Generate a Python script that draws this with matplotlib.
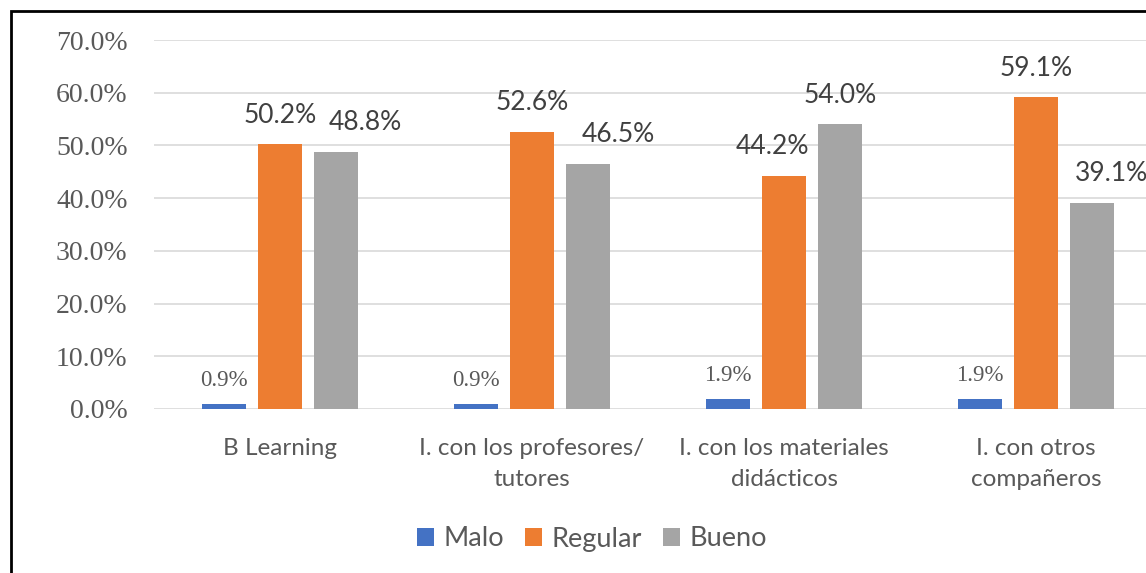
import matplotlib.pyplot as plt
import numpy as np
from matplotlib.patches import Rectangle

categories = ['B Learning', 'I. con los profesores/\ntutores',
              'I. con los materiales\ndidácticos', 'I. con otros\ncompañeros']
series = ['Malo', 'Regular', 'Bueno']
malo = [0.9, 0.9, 1.9, 1.9]
regular = [50.2, 52.6, 44.2, 59.1]
bueno = [48.8, 46.5, 54.0, 39.1]
colors = ['#4472c4', '#ed7d31', '#a5a5a5']

sans = 'Lato'
serif = 'Liberation Serif'
txt = '#595959'
lbl = '#404040'

fig = plt.figure(figsize=(11.46, 5.73), dpi=100)
ax = fig.add_axes([154 / 1146, 164 / 573, 1008 / 1146, 369 / 573])

# border around chart (left/top visible, rest cut off)
fig.patches.append(Rectangle((11 / 1146, -0.1), 1.2, 1.1 - 11 / 573,
                             transform=fig.transFigure, fill=False,
                             edgecolor='black', linewidth=2, clip_on=False))

x = np.arange(len(categories))
w = 0.175
step = 0.222
b1 = ax.bar(x - step, malo, w, color=colors[0], label=series[0], zorder=3)
b2 = ax.bar(x, regular, w, color=colors[1], label=series[1], zorder=3)
b3 = ax.bar(x + step, bueno, w, color=colors[2], label=series[2], zorder=3)

ax.set_xlim(-0.5, 3.5)
ax.set_ylim(0, 70)
ax.set_yticks(np.arange(0, 71, 10))
ax.set_yticklabels([f'{v:.1f}%' for v in np.arange(0, 71, 10)],
                   fontfamily=serif, fontsize=20, color=txt)
ax.set_xticks(x)
ax.set_xticklabels(categories, fontfamily=sans, fontsize=17.5, color=txt,
                   linespacing=1.55)
ax.tick_params(axis='both', length=0)
ax.tick_params(axis='y', pad=19)
ax.tick_params(axis='x', pad=21)
ax.grid(axis='y', color='#d9d9d9', linewidth=1.2, zorder=0)
for s in ax.spines.values():
    s.set_visible(False)

# data labels
for rect, v in zip(b1, malo):
    ax.annotate(f'{v:.1f}%', (rect.get_x() + rect.get_width() / 2, v),
                xytext=(0, 17), textcoords='offset points', ha='center',
                va='center', fontfamily=serif, fontsize=16.5, color=txt)
reg_dx = [0, 0, -8, 0]
for rect, v, dx in zip(b2, regular, reg_dx):
    ax.annotate(f'{v:.1f}%', (rect.get_x() + rect.get_width() / 2, v),
                xytext=(dx, 21), textcoords='offset points', ha='center',
                va='center', fontfamily=sans, fontsize=19, color=lbl)
bue_dx = [21, 22, 0, 14]
for rect, v, dx in zip(b3, bueno, bue_dx):
    ax.annotate(f'{v:.1f}%', (rect.get_x() + rect.get_width() / 2, v),
                xytext=(dx, 21), textcoords='offset points', ha='center',
                va='center', fontfamily=sans, fontsize=19, color=lbl)

fig.legend(loc='center', bbox_to_anchor=(592 / 1146, 1 - 539 / 573), ncol=3,
           frameon=False, prop={'family': sans, 'size': 19.5},
           labelcolor=txt, handlelength=0.65, handleheight=0.65,
           handletextpad=0.35, columnspacing=0.75)

fig.savefig('out.png', dpi=100)
